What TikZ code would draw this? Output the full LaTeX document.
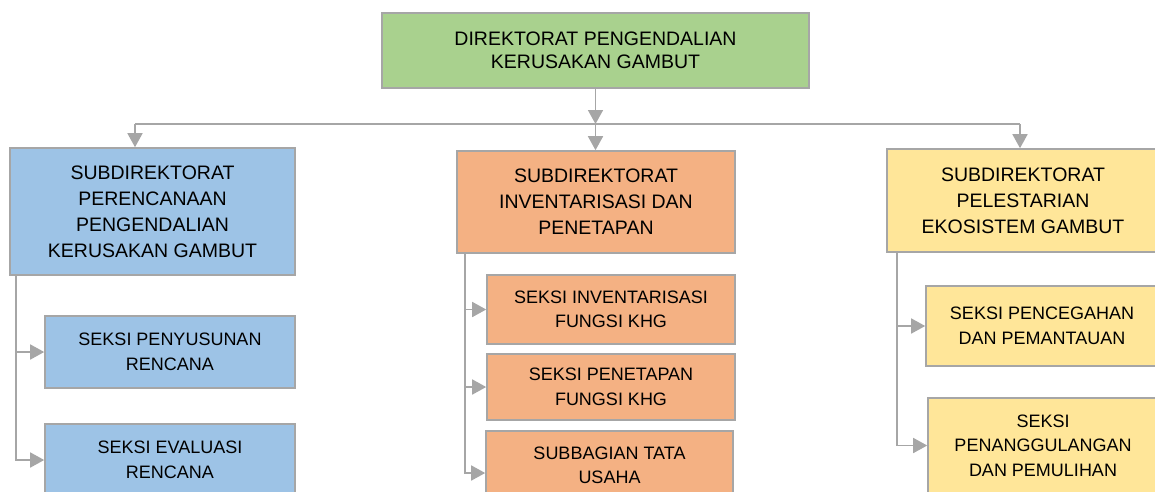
\documentclass[tikz,border=0pt]{standalone}
\usepackage{fontspec}
\setmainfont{Liberation Sans}
\usepackage{tikz}
\usetikzlibrary{arrows.meta}

\definecolor{hijau}{HTML}{A9D18E}
\definecolor{biru}{HTML}{9DC3E6}
\definecolor{jingga}{HTML}{F4B183}
\definecolor{kuning}{HTML}{FFE699}
\definecolor{garis}{HTML}{A6A6A6}

\begin{document}
\begin{tikzpicture}[x=1pt,y=-1pt,
	kotak/.style={draw=garis,line width=1.6pt,align=center,inner sep=0pt,text=black},
	besar/.style={kotak,font=\fontsize{19.5}{26}\selectfont},
	kecil/.style={kotak,font=\fontsize{18}{24.5}\selectfont},
	hubung/.style={draw=garis,line width=1.6pt},
	panah/.style={hubung,-{Triangle[length=14pt,width=15pt]}}]
			
			\useasboundingbox (0,0) rectangle (1155,491);
			
			\node[besar,fill=hijau,minimum width=427pt,minimum height=75pt,font=\fontsize{19.5}{23}\selectfont] (dir) at (595.5,50.5) {DIREKTORAT PENGENDALIAN\\KERUSAKAN GAMBUT};
			
			% subdirektorat
			\node[besar,fill=biru,minimum width=285pt,minimum height=127pt] (subA) at (152.5,211.5) {SUBDIREKTORAT\\PERENCANAAN\\PENGENDALIAN\\KERUSAKAN GAMBUT};
			\node[besar,fill=jingga,minimum width=278pt,minimum height=102pt] (subB) at (596,202) {SUBDIREKTORAT\\INVENTARISASI DAN\\PENETAPAN};
			\node[besar,fill=kuning,minimum width=272pt,minimum height=103pt] (subC) at (1023,200.5) {SUBDIREKTORAT\\PELESTARIAN\\EKOSISTEM GAMBUT};
			
			% seksi
			\node[kecil,fill=biru,minimum width=250pt,minimum height=72pt] (seksiA1) at (170,352) {SEKSI PENYUSUNAN\\RENCANA};
			\node[kecil,fill=biru,minimum width=250pt,minimum height=72pt] (seksiA2) at (170,460) {SEKSI EVALUASI\\RENCANA};
			\node[kecil,fill=jingga,minimum width=248pt,minimum height=69pt] (seksiB1) at (611,309.5) {SEKSI INVENTARISASI\\FUNGSI KHG};
			\node[kecil,fill=jingga,minimum width=248pt,minimum height=66pt] (seksiB2) at (611,387) {SEKSI PENETAPAN\\FUNGSI KHG};
			\node[kecil,fill=jingga,minimum width=247pt,minimum height=69pt] (seksiB3) at (609.5,465.5) {SUBBAGIAN TATA\\USAHA};
			\node[kecil,fill=kuning,minimum width=232pt,minimum height=80pt] (seksiC1) at (1042,326) {SEKSI PENCEGAHAN\\DAN PEMANTAUAN};
			\node[kecil,fill=kuning,minimum width=230pt,minimum height=95pt] (seksiC2) at (1043,445.5) {SEKSI\\PENANGGULANGAN\\DAN PEMULIHAN};
			
			\coordinate (bus) at (595.5,124);
			\coordinate (busA) at (135,124);
			\coordinate (busC) at (1020,124);
			
			\draw[panah] (dir) -- (bus);
			\draw[hubung] (busA) -- (busC);
			\draw[panah] (bus) -- (bus |- subB.north);
			\foreach \c/\s in {busA/subA,busC/subC} { \draw[panah] (\c) -- (\c |- \s.north); }
			
			\foreach \s in {seksiA1,seksiA2} { \draw[panah] ([xshift=7pt]subA.south west) |- (\s.west); }
			\foreach \s in {seksiB1,seksiB2} { \draw[panah] ([xshift=9pt]subB.south west) |- (\s.west); }
			\draw[panah] ([xshift=9pt]subB.south west) |- ([yshift=-7.5pt]seksiB3.west);
			\foreach \s in {seksiC1,seksiC2} { \draw[panah] ([xshift=11pt]subC.south west) |- (\s.west); }
		\end{tikzpicture}
\end{document}
